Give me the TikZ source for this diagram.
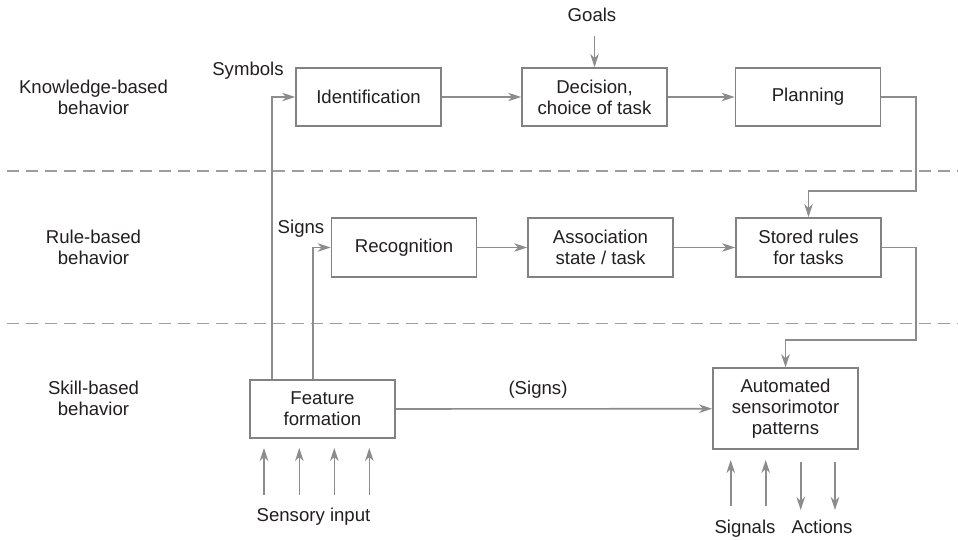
\documentclass[tikz,border=0pt]{standalone}
\usepackage{fontspec}
\setmainfont{Liberation Sans}
\usetikzlibrary{arrows.meta}
\definecolor{linegray}{RGB}{140,140,140}
\definecolor{boxgray}{RGB}{130,130,130}
\definecolor{textdark}{RGB}{35,31,32}
\begin{document}
\begin{tikzpicture}[x=1pt,y=-1pt,
  every node/.style={text=textdark,font=\fontsize{18.6}{21}\selectfont,align=center,inner sep=0pt},
  blockbox/.style={draw=boxgray,line width=1.8pt,minimum width=145pt,minimum height=58pt},
  conn/.style={draw=linegray,line width=1.6pt,-{Stealth[length=13pt,width=8.5pt,inset=4pt]}},
  sepline/.style={draw=linegray!85,line width=1.4pt,dash pattern=on 12pt off 7pt}]
\useasboundingbox (0,0) rectangle (958,540);
\fill[white] (0,0) rectangle (958,540);

% level separators
\draw[sepline] (7,171) -- (958,171);
\draw[sepline] (7,323.5) -- (958,323.5);

% level labels
\node (lk) at (93.5,97.5) {Knowledge-based\\behavior};
\node (lr) at (93.5,247) {Rule-based\\behavior};
\node (ls) at (93.5,398) {Skill-based\\behavior};

% boxes
\node[blockbox] (ident) at (368.5,97) {Identification};
\node[blockbox] (decision) at (594.5,97) {Decision,\\choice of task};
\node[blockbox] (planning) at (808,97) {Planning};
\node[blockbox,minimum height=59pt] (recog) at (404,247.5) {Recognition};
\node[blockbox,minimum height=59pt] (assoc) at (600.5,247.5) {Association\\state / task};
\node[blockbox,minimum height=59pt] (stored) at (808.5,247.5) {Stored rules\\for tasks};
\node[blockbox] (feature) at (322.5,409) {Feature\\formation};
\node[blockbox,minimum height=81pt] (auto) at (785.5,408.7) {Automated\\sensorimotor\\patterns};

% labels (placed by baseline)
\node[anchor=base] (goals) at (592,21.5) {Goals};
\node[anchor=base] (symbols) at (248,76) {Symbols};
\node[anchor=base] (signs) at (301,233.5) {Signs};
\node[anchor=base] (signs2) at (538,394.5) {(Signs)};
\node[anchor=base] (sensory) at (313.5,521.5) {Sensory input};
\node[anchor=base] (signals) at (745,533) {Signals};
\node[anchor=base] (actions) at (822,533) {Actions};

% coordinates
\coordinate (g0) at (594.5,36);
\coordinate (r1) at (916,191);
\coordinate (r2) at (916,340);

% connectors
\draw[conn] (g0) -- (decision.north);
\draw[conn] (ident.east) -- (decision.west);
\draw[conn] (decision.east) -- (planning.west);
\draw[conn] (planning.east) -| (r1) -| (stored.north);
\draw[conn] (recog.east) -- (assoc.west);
\draw[conn] (assoc.east) -- (stored.west);
\draw[conn] (stored.east) -| (r2) -| (auto.north);
\draw[conn] (feature.east) -- (auto.west);
\draw[conn] (feature.north west) ++(22.7,0) |- (ident.west);
\draw[conn] (feature.north west) ++(64,0) |- (recog.west);

% sensory inputs
\foreach \i/\x in {1/264,2/299.3,3/334.3,4/369.3}{
  \coordinate (si\i) at (\x,495);
  \coordinate (st\i) at (\x,448);
  \draw[conn] (si\i) -- (st\i);
}
% signals and actions
\foreach \i/\x in {1/730.7,2/765.7}{
  \coordinate (sg\i) at (\x,506);
  \coordinate (sgt\i) at (\x,460);
  \draw[conn] (sg\i) -- (sgt\i);
}
\foreach \i/\x in {1/800.7,2/835}{
  \coordinate (ac\i) at (\x,462);
  \coordinate (act\i) at (\x,510);
  \draw[conn] (ac\i) -- (act\i);
}
\end{tikzpicture}
\end{document}
